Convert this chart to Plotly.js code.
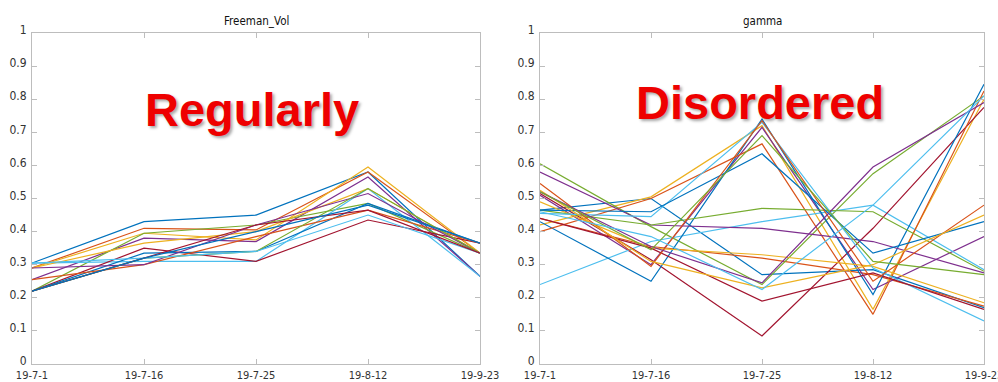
<!DOCTYPE html>
<html><head><meta charset="utf-8">
<script src="https://cdn.plot.ly/plotly-3.0.1.min.js"></script>
<style>html,body{margin:0;padding:0;background:#fff;}#chart{width:998px;height:382px;}</style>
</head><body><div id="chart"></div>
<script>
const dates = ["19-7-1", "19-7-16", "19-7-25", "19-8-12", "19-9-23"];
const colors = ["#0072BD", "#D95319", "#EDB120", "#7E2F8E", "#77AC30", "#4DBEEE", "#A2142F"];

// Freeman_Vol series (left panel)
const fv01 = [0.305, 0.43, 0.45, 0.58, 0.265];
const fv02 = [0.29, 0.41, 0.405, 0.58, 0.335];
const fv03 = [0.29, 0.395, 0.375, 0.595, 0.335];
const fv04 = [0.255, 0.38, 0.37, 0.565, 0.265];
const fv05 = [0.22, 0.395, 0.42, 0.485, 0.335];
const fv06 = [0.305, 0.31, 0.31, 0.53, 0.265];
const fv07 = [0.22, 0.35, 0.31, 0.435, 0.365];
const fv08 = [0.22, 0.335, 0.34, 0.485, 0.365];
const fv09 = [0.255, 0.30, 0.385, 0.465, 0.365];
const fv10 = [0.29, 0.365, 0.40, 0.53, 0.335];
const fv11 = [0.29, 0.30, 0.42, 0.515, 0.335];
const fv12 = [0.22, 0.32, 0.34, 0.53, 0.335];
const fv13 = [0.305, 0.32, 0.34, 0.45, 0.335];
const fv14 = [0.22, 0.32, 0.42, 0.465, 0.335];
const fv15 = [0.22, 0.32, 0.40, 0.48, 0.365];
const freeman = [fv01, fv02, fv03, fv04, fv05, fv06, fv07, fv08, fv09, fv10, fv11, fv12, fv13, fv14, fv15];

// gamma series (right panel)
const g01 = [0.465, 0.50, 0.27, 0.285, 0.17];
const g02 = [0.44, 0.355, 0.32, 0.27, 0.175];
const g03 = [0.42, 0.505, 0.72, 0.165, 0.80];
const g04 = [0.51, 0.30, 0.715, 0.225, 0.385];
const g05 = [0.605, 0.415, 0.24, 0.575, 0.81];
const g06 = [0.24, 0.37, 0.43, 0.48, 0.285];
const g07 = [0.515, 0.315, 0.085, 0.41, 0.775];
const g08 = [0.43, 0.25, 0.74, 0.21, 0.845];
const g09 = [0.40, 0.50, 0.665, 0.15, 0.825];
const g10 = [0.49, 0.35, 0.33, 0.295, 0.185];
const g11 = [0.58, 0.42, 0.41, 0.37, 0.275];
const g12 = [0.465, 0.42, 0.47, 0.46, 0.28];
const g13 = [0.455, 0.445, 0.73, 0.29, 0.13];
const g14 = [0.44, 0.35, 0.19, 0.275, 0.165];
const g15 = [0.465, 0.46, 0.635, 0.335, 0.43];
const g16 = [0.545, 0.295, 0.735, 0.25, 0.48];
const g17 = [0.525, 0.31, 0.23, 0.30, 0.45];
const g18 = [0.52, 0.355, 0.245, 0.595, 0.79];
const g19 = [0.52, 0.345, 0.69, 0.31, 0.27];
const g20 = [0.46, 0.385, 0.225, 0.48, 0.81];
const gamma = [g01, g02, g03, g04, g05, g06, g07, g08, g09, g10, g11, g12, g13, g14, g15, g16, g17, g18, g19, g20];

const panelTitles = ["Freeman_Vol", "gamma"];
const labels = ["Regularly", "Disordered"];
const yTicks = [0, 0.1, 0.2, 0.3, 0.4, 0.5, 0.6, 0.7, 0.8, 0.9, 1];
const yTickText = ["0", "0.1", "0.2", "0.3", "0.4", "0.5", "0.6", "0.7", "0.8", "0.9", "1"];

const xIdx = dates.map((d, i) => i);
const traces = [];
freeman.forEach((s, i) => traces.push({x: xIdx, y: s, type: 'scatter', mode: 'lines', xaxis: 'x', yaxis: 'y',
  line: {color: colors[i % colors.length], width: 1.2}, hoverinfo: 'skip', showlegend: false}));
gamma.forEach((s, i) => traces.push({x: xIdx, y: s, type: 'scatter', mode: 'lines', xaxis: 'x2', yaxis: 'y2',
  line: {color: colors[i % colors.length], width: 1.2}, hoverinfo: 'skip', showlegend: false}));

const fam = '"Liberation Sans Narrow", "DejaVu Sans Condensed", "Liberation Sans", sans-serif';
function xAx(dom, anchor) {
  return {domain: dom, anchor: anchor, range: [0, 4], tickvals: xIdx, ticktext: dates, showgrid: false, zeroline: false,
    showline: true, linecolor: '#bdbdbd', linewidth: 1, mirror: 'ticks', ticks: 'inside', ticklen: 5, tickcolor: '#bdbdbd',
    tickfont: {family: fam, size: 11, color: '#333'}, automargin: false, fixedrange: true, ticklabelstandoff: 1, ticklabeloverflow: 'allow'};
}
function yAx(anchor) {
  return {domain: [0, 1], anchor: anchor, range: [0, 1], tickvals: yTicks, ticktext: yTickText, showgrid: false, zeroline: false,
    showline: true, linecolor: '#bdbdbd', linewidth: 1, mirror: 'ticks', ticks: 'inside', ticklen: 5, tickcolor: '#bdbdbd',
    tickfont: {family: fam, size: 12, color: '#333'}, automargin: false, fixedrange: true, ticklabelstandoff: 2, ticklabelshift: -3};
}

const bigFont = {family: '"Liberation Sans", Arial, sans-serif', size: 47, color: 'rgb(238,0,0)', weight: 700,
  shadow: '2px 2px 3px rgba(0,0,0,0.35)'};
const titleFont = {family: fam, size: 11.5, color: '#111'};
const layout = {
  width: 998, height: 382,
  margin: {l: 0, r: 0, t: 33, b: 18},
  paper_bgcolor: '#fff', plot_bgcolor: '#fff',
  xaxis: xAx([32/998, 480/998], 'y'),
  yaxis: yAx('x'),
  xaxis2: xAx([540/998, 984/998], 'y2'),
  yaxis2: yAx('x2'),
  annotations: [
    {text: panelTitles[0], xref: 'x', yref: 'paper', x: 2, y: 1, yanchor: 'bottom', yshift: 3, showarrow: false, font: titleFont},
    {text: panelTitles[1], xref: 'x2', yref: 'paper', x: 2, y: 1, yanchor: 'bottom', yshift: 3, showarrow: false, font: titleFont},
    {text: labels[0], xref: 'x', yref: 'y', x: 1.96, y: 0.77, showarrow: false, font: bigFont},
    {text: labels[1], xref: 'x2', yref: 'y2', x: 1.98, y: 0.79, showarrow: false, font: bigFont}
  ]
};
Plotly.newPlot('chart', traces, layout, {staticPlot: true, displayModeBar: false});
</script></body></html>
